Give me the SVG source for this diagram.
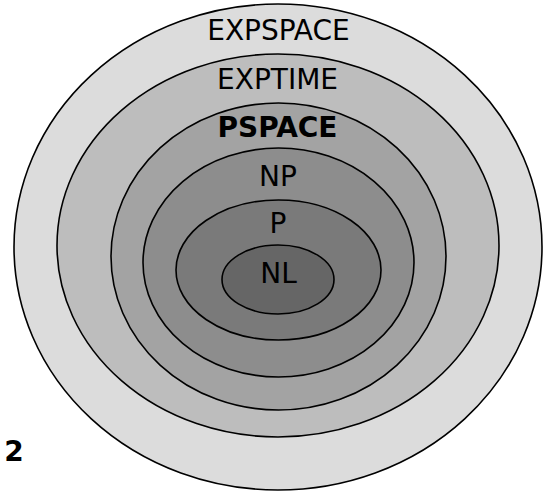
<svg xmlns="http://www.w3.org/2000/svg" width="547" height="495" viewBox="0 0 547 495">
<style>
.ring{stroke:#000;stroke-width:1.6}
.lbl{font-family:"DejaVu Sans","Liberation Sans",sans-serif;font-size:28px;fill:#000;text-anchor:middle}
.b{font-weight:bold}
</style>
<rect width="547" height="495" fill="#fff"/>
<g id="expspace"><ellipse class="ring" cx="278" cy="247" rx="264" ry="243" fill="#dcdcdc"/><text class="lbl" x="278.5" y="40">EXPSPACE</text></g>
<g id="exptime"><ellipse class="ring" cx="278" cy="245.5" rx="221" ry="191.5" fill="#bdbdbd"/><text class="lbl" x="277.5" y="89">EXPTIME</text></g>
<g id="pspace"><ellipse class="ring" cx="278.5" cy="256.5" rx="167.5" ry="153.5" fill="#a3a3a3"/><text class="lbl b" x="277.5" y="137">PSPACE</text></g>
<g id="np"><ellipse class="ring" cx="278.5" cy="262.5" rx="135.5" ry="114.5" fill="#8d8d8d"/><text class="lbl" x="278" y="186">NP</text></g>
<g id="p"><ellipse class="ring" cx="278.5" cy="270" rx="102.5" ry="70" fill="#7a7a7a"/><text class="lbl" x="278" y="233">P</text></g>
<g id="nl"><ellipse class="ring" cx="278" cy="279.5" rx="56" ry="34.5" fill="#666"/><text class="lbl" x="278.5" y="283">NL</text></g>
<g id="connectors"/>
<text class="lbl b" x="14" y="461" font-size="27">2</text>
</svg>
